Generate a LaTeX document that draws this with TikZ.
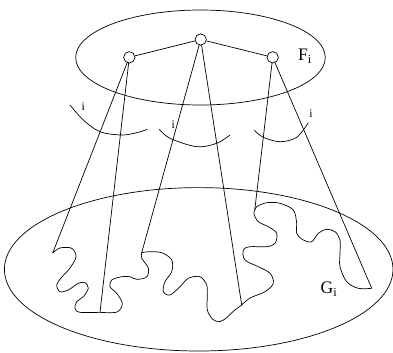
\documentclass[tikz,border=0pt]{standalone}
\usepackage{fontspec}
\setmainfont{Liberation Serif}
\usetikzlibrary{positioning}

\begin{document}
\begin{tikzpicture}[x=0.03cm, y=-0.03cm, line width=0.6pt]
  \tikzstyle{vertex}=[draw, circle, fill=white, inner sep=0pt, minimum size=0.34cm]
  \tikzstyle{link}=[line width=0.6pt]
  \tikzstyle{wavy}=[line width=0.6pt, smooth, tension=0.55]
  \tikzstyle{idx}=[inner sep=0pt, font=\fontsize{10}{12}\selectfont]
  \tikzstyle{setname}=[inner sep=0pt, font=\fontsize{15}{18}\selectfont]

  \useasboundingbox (0,0) rectangle (393,352);

  % the two sets
  \draw (200.5,57.5) ellipse [x radius=124.8, y radius=47.5];
  \draw (198.7,269.3) ellipse [x radius=194.3, y radius=81.7];

  \coordinate (a1) at (52.7,253);
  \coordinate (a2) at (100,312.3);
  \coordinate (a3) at (141.7,252.7);
  \coordinate (a4) at (241.7,305);
  \coordinate (a5) at (254.7,210.5);
  \coordinate (a6) at (371.7,288.3);

  \draw[link] (129.3,57.3) -- (a1);
  \draw[link] (129.3,57.3) -- (a2);
  \draw[link] (200.7,39.5) -- (a3);
  \draw[link] (200.7,39.5) -- (a4);
  \draw[link] (272.7,57.3) -- (a5);
  \draw[link] (272.7,57.3) -- (a6);

  \node[vertex] (nl) at (129.3,57.3) {};
  \node[vertex] (nt) at (200.7,39.5) {};
  \node[vertex] (nr) at (272.7,57.3) {};
  \draw[link] (nl) -- (nt) -- (nr);

  \node[setname] (F) at (305,56) {F\textsubscript{i}};
  \node[setname] (G) at (329,289) {G\textsubscript{i}};

  % wiggly boundary
  \draw plot[wavy] coordinates {(a1) (60,248) (71.7,248.3) (76,256.7) (70,268) (61,278) (56.7,285) (60,291.7) (68.3,290) (78.3,283.3) (85,282.7) (88.3,288.3) (83.3,296.7) (76.7,301.7) (75,308.3) (80,312.3) (a2)};
  \draw plot[wavy] coordinates {(a2) (117,312) (122.3,303.5) (116.7,293.3) (110,286.7) (111.7,280) (121.7,276.7) (130,276.7) (136.7,279.3) (146.7,277) (148.3,268) (141.7,258.3) (a3)};
  \draw plot[wavy] coordinates {(a3) (148.3,251.7) (161.7,252.7) (171.7,260) (171.7,271.7) (165,281.7) (163.3,291.7) (170,295) (180,286.7) (188.3,278.3) (200,276.7) (206.7,285) (207.3,296.7) (207.3,310) (213,319.5) (220,321.5) (226.7,317.7) (233,311.5) (a4)};
  \draw plot[wavy] coordinates {(a4) (250,298) (265,291.7) (273.3,283.3) (270,273.3) (258.3,266.7) (245,260) (243.3,250) (250,246.7) (266.7,246.7) (275,243.3) (276.7,233.3) (268.3,226.7) (258.3,221.7) (254,214) (a5)};
  \draw plot[wavy] coordinates {(a5) (256.7,206.7) (266.7,202.7) (280,203.3) (293.3,210) (296.7,223.3) (296.7,233.3) (303.3,240) (311.7,241.7) (318.3,233.3) (326.7,229.3) (335,231.7) (340,240) (340,253.3) (340,266.7) (346.7,281.7) (358.3,288.3) (a6)};

  % arcs marked i
  \draw plot[wavy] coordinates {(70,105) (83.3,120) (100,131.7) (121.7,135) (136.7,132.7) (147.3,129.3)};
  \draw plot[wavy] coordinates {(159.3,129.3) (170,138.3) (196.7,146.7) (216.7,143.3) (230,135)};
  \draw plot[wavy] coordinates {(254,130) (263.3,137.3) (280,141.7) (296.7,137.3) (308.3,122.7)};
  \node[idx] (i1) at (83.3,106.5) {i};
  \node[idx] (i2) at (173.3,124.3) {i};
  \node[idx] (i3) at (311,113.3) {i};
\end{tikzpicture}
\end{document}
